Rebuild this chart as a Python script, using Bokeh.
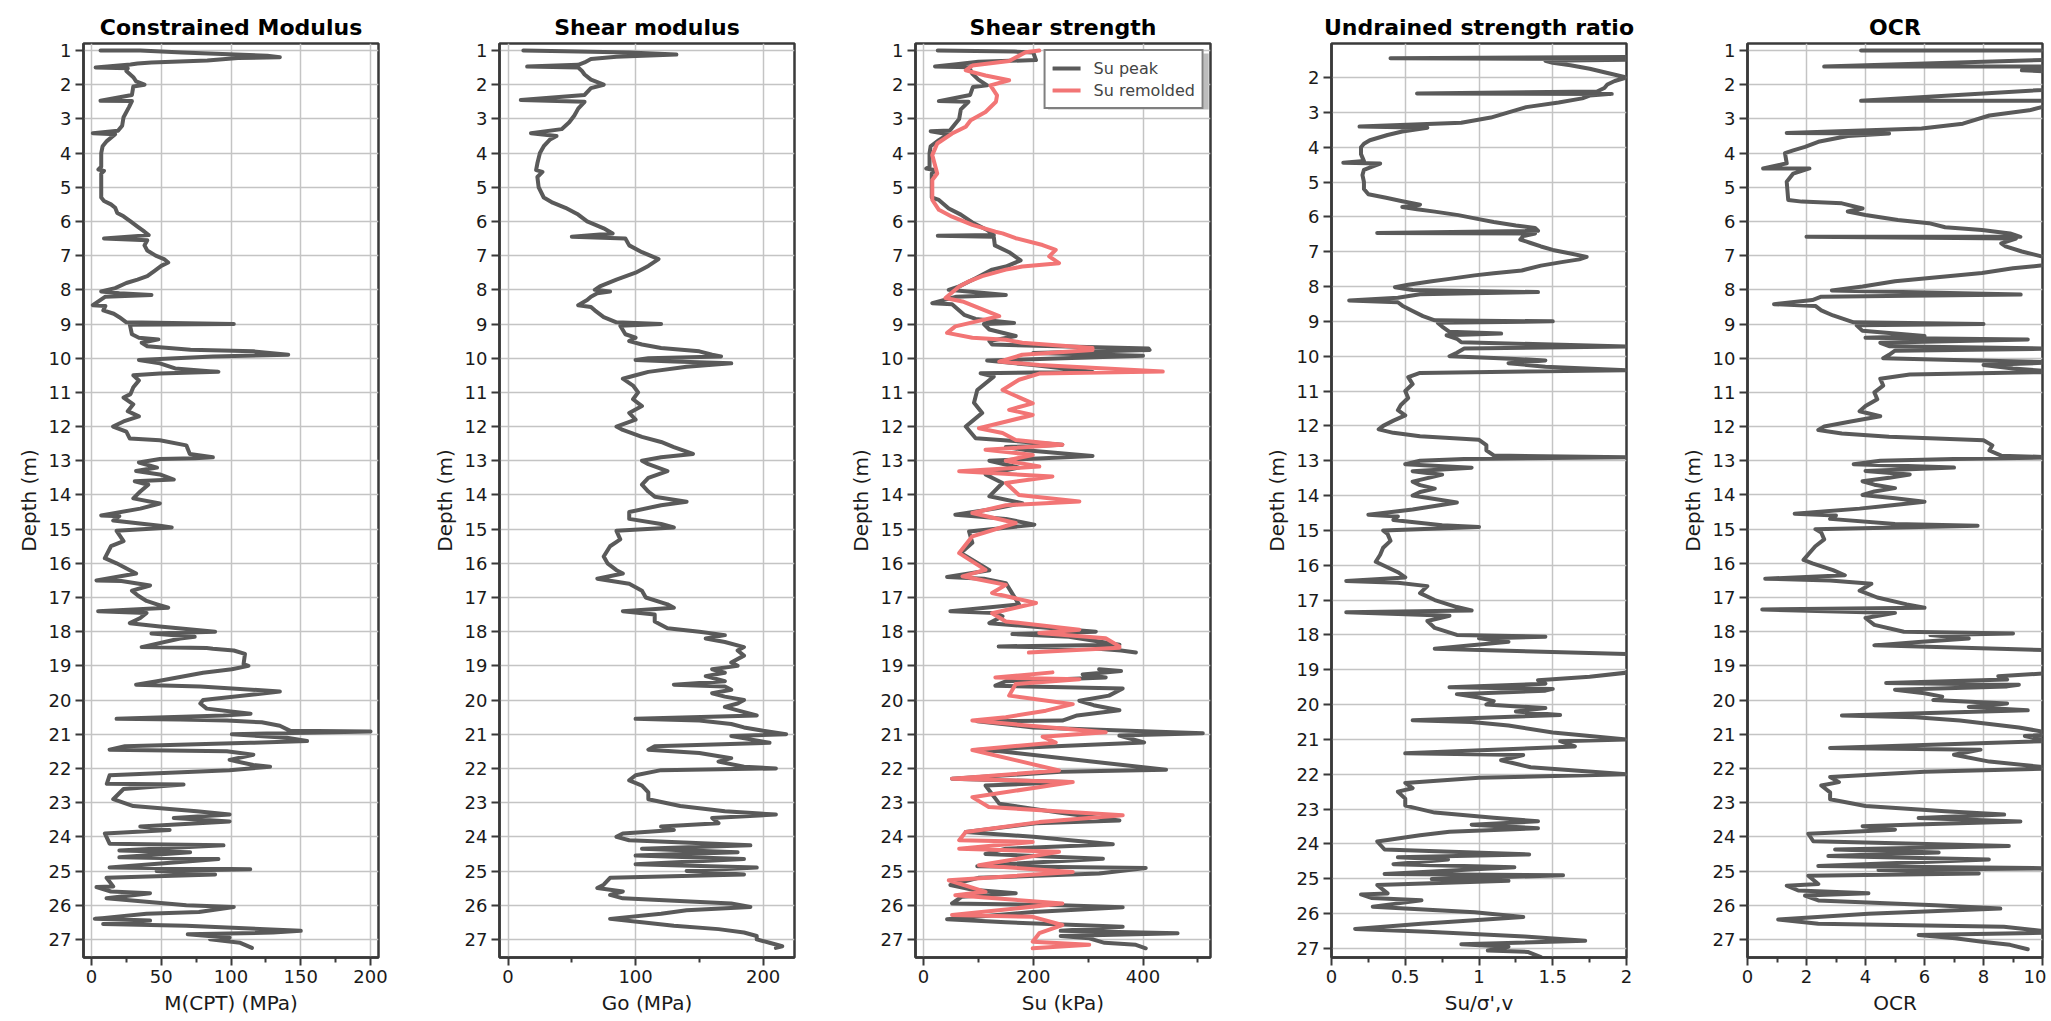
from bokeh.plotting import figure
from bokeh.layouts import row
from bokeh.models import (Range1d, FixedTicker, SingleIntervalTicker, NumeralTickFormatter,
                          Legend, LegendItem, BoxAnnotation)
from bokeh.embed import file_html
from bokeh.resources import INLINE

NAN = float("nan")

# ---------------- data ----------------
m_depth = [1.00,1.00,1.06,1.15,1.20,1.22,1.29,1.35,1.38,1.41,1.50,1.52,1.60,1.78,1.90,2.00,2.05,2.30,2.47,2.48,
           2.65,2.95,3.20,3.35,3.42,3.45,3.65,3.80,4.00,4.40,4.48,4.52,4.60,5.30,5.40,5.50,5.60,5.75,5.85,6.00,
           6.15,6.30,6.40,6.50,6.55,6.70,6.85,7.00,7.10,7.20,7.30,7.45,7.60,7.70,7.80,7.95,8.05,8.10,8.15,8.20,
           8.45,8.47,8.60,8.70,8.80,8.95,9.00,9.02,9.30,9.40,9.45,9.55,9.65,9.75,9.80,9.90,9.95,10.05,10.15,10.30,
           10.40,10.45,10.50,10.65,10.85,11.05,11.15,11.35,11.55,11.70,11.85,12.00,12.15,12.35,12.40,12.55,12.80,12.90,12.93,12.95,
           13.05,13.20,13.30,13.40,13.55,13.60,13.70,13.90,14.10,14.25,14.40,14.60,14.62,14.75,14.90,14.95,15.05,15.35,15.50,15.85,
           16.00,16.20,16.30,16.50,16.52,16.65,16.80,16.95,17.10,17.20,17.30,17.40,17.45,17.60,17.75,17.85,18.00,18.05,18.15,18.20,
           18.45,18.48,18.50,18.55,18.65,18.95,19.00,19.10,19.20,19.45,19.55,19.60,19.75,20.00,20.10,20.25,20.40,20.45,20.55,20.57,
           20.60,20.65,20.75,20.90,20.92,21.00,21.10,21.20,21.25,21.35,21.45,21.50,21.60,21.75,21.90,21.95,22.05,22.20,22.45,22.47,
           22.60,22.90,23.10,23.25,23.35,23.45,23.55,23.70,23.80,23.90,24.20,24.25,24.40,24.45,24.60,24.65,24.90,24.95,25.00,25.10,
           25.20,25.45,25.47,25.60,25.65,25.80,26.00,26.05,26.20,26.25,26.40,26.45,26.55,26.60,26.75,26.80,26.85,26.95,27.00,27.10,27.25]
m_val = [6.5,35,65,126,135,105,83,43,33,28,3,26,25,30,32,38,30,29,6.5,29,
         27,23,22,19,1,17,11,8,7,7,5,9,7,7,9,14,17,18.5,23,28,
         33,38,41,9,40,38,40,46,52,55,50,45,40,33,25,17,7,20,43,10,
         1,10,8.5,16,20,25,102,27.5,29,34,48,36,40,71,116,141,87,34,49,60,
         91,49,30,34,30,28,23,30,26,34,23,15.5,25,27.5,49,68,70.5,87,74,49,
         34,47,32,49,59,31,40.7,35,30,49,35,7,20,15.6,49,57.5,18,23,14,9.6,
         18,27.5,32,3.6,21.5,42,29,33.5,39.5,47,55,4.8,39.5,35,27.5,49,88.6,43,74,63.5,
         36,82.6,87,102,110,109,112.5,100.6,80,47,32,78,135,80,78,82.6,114,94.6,18,63.5,
         97,122,135,142.5,200,100.6,140,154.5,114,24,13,97,116,99,116,128,99,13,11,66,
         23,15.6,30,75.4,99,59,99,35,56,9.6,13,94.6,20,70.7,20,91,13,113.8,46.7,88.6,
         10.8,15.6,3.6,14,42,10.8,68,102,77,39.5,2.4,42,8.4,68,150,130,69,99,85,106.6,115]

go_depth = [1.00,1.02,1.06,1.12,1.18,1.25,1.35,1.42,1.47,1.50,1.60,1.70,1.85,2.00,2.10,2.30,2.45,2.50,2.70,2.90,
            3.10,3.30,3.42,3.50,3.60,3.80,4.00,4.30,4.50,4.55,4.70,5.00,5.30,5.45,5.60,5.80,6.00,6.20,6.35,6.45,
            6.50,6.70,6.90,7.10,7.30,7.50,7.70,7.90,8.00,8.05,8.10,8.20,8.30,8.45,8.50,8.60,8.80,8.95,9.00,9.05,
            9.30,9.40,9.50,9.60,9.70,9.80,9.90,9.95,10.00,10.05,10.10,10.15,10.25,10.40,10.50,10.60,10.80,11.00,11.20,11.40,
            11.60,11.80,12.00,12.10,12.30,12.45,12.60,12.80,12.90,13.00,13.10,13.30,13.50,13.70,13.90,14.05,14.20,14.30,14.50,14.70,
            14.85,14.95,15.05,15.30,15.50,15.80,16.00,16.20,16.30,16.45,16.60,16.80,17.00,17.20,17.30,17.40,17.50,17.70,17.90,18.00,
            18.10,18.20,18.30,18.45,18.55,18.70,18.90,19.00,19.10,19.20,19.30,19.45,19.55,19.60,19.70,19.80,19.90,20.00,20.10,20.20,
            20.30,20.45,20.55,20.60,20.70,20.80,20.90,21.00,21.05,21.15,21.25,21.35,21.45,21.55,21.70,21.80,21.95,22.00,22.05,22.20,
            22.35,22.50,22.70,22.90,23.10,23.25,23.35,23.45,23.60,23.70,23.80,23.90,24.00,24.10,24.25,24.35,24.45,24.55,24.65,24.80,
            24.90,25.00,25.10,25.20,25.40,25.50,25.60,25.70,25.80,25.95,26.05,26.15,26.25,26.40,26.50,26.60,26.70,26.80,26.90,27.00,
            27.10,27.20,27.25]
go_val = [12,45,95,132,85,65,60,55,15,55,58,60,65,75,65,60,10,60,55,52,
          48,42,18,38,33,28,25,23,22,27,23,24,28,35,45,55,62,75,82,50,
          92,95,105,118,110,100,85,72,68,80,70,65,62,55,65,68,75,85,120,88,
          92,100,95,105,120,150,160,167,110,100,130,175,140,110,100,90,98,102,98,105,
          95,100,85,90,105,120,130,145,120,105,110,125,110,105,110,115,140,120,95,95,
          120,130,85,88,80,75,78,85,90,70,95,105,108,125,130,90,115,115,125,150,
          170,155,170,185,180,185,175,180,160,170,155,170,130,170,175,160,170,185,180,170,
          180,195,100,150,175,185,200,218,175,190,205,115,110,150,175,165,185,210,120,100,
          95,105,110,110,135,170,210,160,165,120,130,90,85,95,190,105,180,100,185,100,
          195,140,185,80,75,70,90,80,90,175,190,140,120,80,105,130,165,185,195,195,
          205,215,210]

su_peak_depth = [1.00,1.03,1.06,1.28,1.33,1.40,1.47,1.49,1.68,1.85,2.02,2.07,2.30,2.48,2.50,2.72,3.00,3.20,3.34,3.36,
                 3.45,3.62,3.80,4.00,4.40,4.45,4.50,4.60,5.00,5.30,5.37,5.62,5.80,6.03,6.25,6.40,6.42,6.45,6.70,6.90,
                 7.14,7.32,7.41,7.66,7.90,8.00,8.15,8.20,8.39,8.42,8.73,8.85,8.97,9.00,9.16,9.35,9.50,9.60,9.72,9.76,
                 9.85,9.93,10.07,10.20,10.40,10.44,10.54,10.93,11.30,11.60,12.00,12.34,12.53,12.60,12.70,12.86,13.00,13.20,13.40,13.65,
                 14.04,14.24,14.40,14.58,14.70,14.87,15.07,15.40,15.70,16.20,16.40,16.45,16.58,17.20,17.40,17.45,17.55,17.75,18.00,18.07,
                 18.15,18.38,18.43,18.48,18.55,18.61,18.80,19.10,19.15,19.25,19.34,19.45,19.58,19.66,19.87,20.02,20.15,20.30,20.45,20.60,
                 20.62,20.80,20.97,21.04,21.24,21.35,21.46,21.50,22.04,22.10,22.30,22.40,22.50,23.03,23.30,23.52,23.60,23.86,24.00,24.22,
                 24.35,24.50,24.64,24.80,24.86,24.91,25.07,25.20,25.41,25.55,25.65,25.75,25.95,26.00,26.06,26.20,26.41,26.50,26.63,26.75,
                 26.82,26.90,26.97,27.10,27.16,27.26]
su_peak = [26,165,200,205,100,60,21,83,89,100,116,90,85,28,82,68,65,55,48,13,
           45,28,13,11,11,5,22,15,15,15,28,46,68,89,116,128,26,128,130,156,
           177,150,125,95,65,46,150,60,16,52,74,95,165,110,120,168,120,125,410,412,
           200,400,116,200,308,104,128,98,92,107,77,95,253,150,192,308,120,174,113,144,
           120,180,130,58,150,202,83,89,68,120,43,110,150,174,49,130,144,120,314,162,
           265,357,137,300,360,387,NAN,320,360,290,332,150,131,363,338,284,310,357,280,253,
           98,200,509,357,402,241,95,140,442,250,52,265,113,138,250,357,205,77,200,345,
           150,113,327,150,98,405,320,100,49,90,168,70,52,250,363,200,43,150,363,250,
           463,250,302,330,387,405]

su_rem_depth = [1.00,1.05,1.31,1.44,1.58,1.73,1.87,2.02,2.31,2.50,2.80,3.04,3.23,3.43,3.72,4.06,4.60,4.79,5.37,5.66,
                5.86,6.10,6.30,6.35,6.49,6.69,6.83,7.02,7.22,7.32,7.41,7.60,7.75,7.90,8.24,8.34,8.77,9.07,9.26,9.40,
                9.46,9.55,9.70,9.76,9.90,10.10,10.20,10.39,10.45,10.63,10.93,11.32,11.51,11.66,12.05,12.19,12.39,12.53,12.68,12.83,
                13.00,13.17,13.31,13.46,13.65,14.00,14.19,14.30,14.53,14.82,15.21,15.70,16.19,16.38,16.63,16.87,17.16,17.46,17.70,17.94,
                18.04,18.19,18.43,18.47,18.61,18.90,19.19,19.34,19.39,19.53,19.87,20.12,20.31,20.50,20.60,20.94,21.07,21.24,21.46,22.06,22.30,
                22.40,22.84,23.13,23.37,23.57,23.86,24.10,24.15,24.35,24.44,24.83,25.03,25.27,25.61,25.71,25.95,26.29,26.34,26.58,26.82,
                27.07,27.16,27.26]
su_rem = [211,186,156,89,77,113,156,122,134,132,113,86,77,52,25,16,25,16,16,28,
          52,89,131,144,168,217,241,229,247,180,150,107,83,65,40,71,138,58,43,89,
          150,180,308,308,180,138,211,436,211,174,144,199,156,199,101,144,168,253,113,199,
          150,211,65,235,150,174,284,150,89,168,89,65,113,71,150,125,205,125,150,284,
          211,332,357,357,192,NAN,235,131,284,168,156,272,223,150,89,332,217,241,89,247,52,
          272,89,119,363,211,77,65,199,65,247,101,272,46,113,58,253,52,199,253,211,
          199,302,199]

ratio_depth = [1.40,1.45,1.47,1.52,1.58,1.65,1.75,1.85,1.95,2.00,2.10,2.20,2.30,2.40,2.46,2.47,2.52,2.60,2.72,2.85,
               3.00,3.15,3.30,3.41,3.44,3.55,3.65,3.80,3.90,4.00,4.20,4.40,4.45,4.47,4.55,4.65,4.80,5.00,5.20,5.35,
               5.45,5.55,5.65,5.72,5.78,5.85,5.95,6.05,6.15,6.25,6.32,6.40,6.46,6.48,6.55,6.65,6.75,6.85,6.95,7.05,
               7.15,7.22,7.30,7.40,7.54,7.62,7.68,7.78,7.85,7.95,8.02,8.10,8.16,8.22,8.32,8.40,8.45,8.55,8.70,8.85,
               8.97,9.00,9.04,9.15,9.30,9.35,9.40,9.50,9.60,9.72,9.78,9.90,10.00,10.05,10.12,10.20,10.30,10.40,10.48,10.60,
               10.80,11.00,11.20,11.40,11.55,11.70,11.85,12.00,12.10,12.20,12.30,12.40,12.55,12.70,12.85,12.90,12.95,13.00,13.10,13.20,
               13.30,13.40,13.50,13.60,13.70,13.80,13.90,14.00,14.10,14.20,14.30,14.40,14.55,14.60,14.70,14.85,14.90,15.00,15.10,15.30,
               15.50,15.70,15.90,16.00,16.20,16.35,16.45,16.50,16.60,16.80,17.00,17.20,17.30,17.35,17.45,17.60,17.80,18.00,18.05,18.10,
               18.20,18.30,18.40,18.55,18.65,18.90,19.20,19.30,19.40,19.50,19.55,19.60,19.70,19.80,19.90,20.00,20.10,20.20,20.30,20.45,
               20.50,20.60,20.80,21.00,21.05,21.20,21.30,21.40,21.45,21.60,21.80,22.00,22.10,22.25,22.40,22.50,22.70,22.90,23.10,23.25,
               23.35,23.45,23.55,23.65,23.75,23.93,24.16,24.30,24.38,24.45,24.58,24.67,24.86,24.90,25.01,25.06,25.18,25.42,25.45,25.55,
               25.62,25.80,25.96,26.10,26.29,26.44,26.52,26.66,26.78,26.88,26.95,27.06,27.10,27.25]
ratio = [2.60,0.40,2.40,1.45,1.50,1.62,1.75,1.85,1.95,2.00,1.92,1.87,1.85,1.80,0.58,1.90,1.75,1.70,1.54,1.32,
         1.20,1.08,0.88,0.19,0.65,0.48,0.38,0.26,0.22,0.20,0.20,0.22,0.08,0.33,0.28,0.22,0.21,0.22,0.22,0.25,
         0.37,0.48,0.60,0.48,0.58,0.70,0.86,0.98,1.10,1.25,1.38,1.40,0.31,1.38,1.30,1.28,1.35,1.42,1.50,1.62,
         1.73,1.68,1.56,1.42,1.29,1.10,0.97,0.80,0.68,0.52,0.43,0.55,1.40,0.60,0.45,0.12,0.45,0.48,0.55,0.62,
         0.70,1.50,0.72,0.75,0.80,1.15,0.78,0.85,0.88,2.00,0.90,0.85,0.80,1.10,1.45,1.20,1.45,2.00,0.60,0.52,
         0.55,0.50,0.52,0.47,0.45,0.50,0.42,0.35,0.32,0.42,0.60,1.00,1.05,1.05,1.10,2.00,0.90,0.60,0.50,0.95,
         0.55,0.75,0.65,0.55,0.60,0.70,0.60,0.55,0.70,0.85,0.70,0.55,0.25,0.45,0.42,0.75,1.00,0.35,0.38,0.40,
         0.35,0.33,0.30,0.35,0.45,0.50,0.10,0.45,0.65,0.60,0.70,0.85,0.95,0.10,0.80,0.65,0.70,0.85,1.45,1.00,
         1.20,0.95,0.70,2.00,2.30,2.40,1.75,1.40,1.45,0.80,1.50,1.45,0.85,1.00,1.10,1.05,1.45,1.25,1.55,0.55,
         0.95,1.20,1.50,2.00,1.55,1.65,1.10,0.50,1.30,1.15,1.35,2.00,1.00,0.50,0.55,0.45,0.50,0.50,0.70,1.10,
         1.40,0.95,1.40,0.80,0.60,0.31,0.36,1.34,0.45,0.79,0.42,1.24,0.36,1.57,0.68,1.20,0.31,0.38,0.20,0.27,
         0.61,0.28,0.97,1.30,0.61,0.16,0.65,1.31,1.72,0.88,1.20,1.06,1.33,1.42]

ocr_depth = [1.00,1.00,1.20,1.47,1.47,1.58,1.62,2.00,2.47,2.47,2.56,2.65,2.75,2.90,3.14,3.28,3.41,3.43,3.50,3.67,
             3.82,3.92,4.00,4.30,4.45,4.45,4.60,4.84,5.37,5.42,5.47,5.62,5.71,5.81,5.96,6.05,6.17,6.25,6.35,6.45,
             6.45,6.50,6.64,6.73,6.88,7.03,7.20,7.37,7.51,7.61,7.75,7.90,8.02,8.14,8.20,8.30,8.42,8.47,8.60,8.75,
             8.95,9.00,9.04,9.20,9.35,9.40,9.45,9.55,9.65,9.72,9.78,9.90,10.00,10.05,10.12,10.20,10.30,10.40,10.48,10.60,
             10.80,11.00,11.20,11.40,11.55,11.70,11.85,12.00,12.10,12.20,12.30,12.40,12.55,12.70,12.85,12.90,12.95,13.00,13.10,13.20,
             13.30,13.40,13.50,13.60,13.70,13.80,13.90,14.00,14.10,14.20,14.30,14.40,14.55,14.60,14.70,14.85,14.90,15.00,15.10,15.30,
             15.50,15.70,15.90,16.00,16.20,16.35,16.45,16.50,16.60,16.80,17.00,17.20,17.30,17.35,17.45,17.60,17.80,18.00,18.05,18.10,
             18.20,18.30,18.40,18.55,18.65,18.90,19.20,19.30,19.40,19.50,19.55,19.60,19.70,19.80,19.90,20.00,20.10,20.20,20.30,20.45,
             20.50,20.60,20.80,21.00,21.05,21.20,21.30,21.40,21.45,21.60,21.80,22.00,22.10,22.25,22.40,22.50,22.70,22.90,23.10,23.25,
             23.35,23.45,23.55,23.64,23.69,23.79,23.91,24.13,24.27,24.37,24.46,24.56,24.66,24.85,24.92,24.97,25.07,25.14,25.38,25.43,
             25.57,25.65,25.72,25.86,26.00,26.10,26.25,26.42,26.54,26.63,26.80,26.87,26.97,27.07,27.16,27.29]
ocr = [3.85,12.0,13.0,2.6,12.0,9.3,10.5,13.0,3.85,12.0,11.0,10.0,9.55,8.2,7.3,5.9,1.33,4.8,3.4,2.4,
       1.95,1.55,1.27,1.33,0.53,2.1,1.55,1.33,1.38,1.84,3.2,3.9,3.4,4.0,5.1,6.15,6.7,7.95,8.9,9.25,
       2.0,9.1,8.6,8.75,9.3,10.0,11.0,9.0,7.95,6.7,5.0,3.9,2.86,9.26,2.5,2.2,0.9,2.3,2.5,2.9,
       3.6,8.0,3.7,3.9,6.0,4.0,9.5,4.5,4.8,10.5,5.0,4.8,4.6,7.0,10.5,8.0,9.0,10.5,5.5,4.5,
       4.6,4.3,4.4,4.0,3.8,4.5,3.5,2.6,2.4,3.2,4.8,8.0,8.3,8.2,8.6,10.5,7.0,4.5,3.6,7.0,
       4.0,5.5,4.8,3.9,4.3,5.0,4.3,3.9,5.0,6.0,4.9,3.8,1.6,3.0,2.8,5.0,7.8,2.3,2.5,2.6,
       2.3,2.1,1.9,2.2,2.9,3.3,0.6,2.8,4.2,3.8,4.4,5.4,6.0,0.5,5.0,4.0,4.3,5.3,9.0,6.2,
       7.5,5.8,4.3,10.5,11.5,12.0,10.5,8.5,8.8,4.7,9.2,8.8,5.0,6.0,6.6,6.3,8.8,7.5,9.5,3.2,
       5.7,7.2,9.2,10.5,9.4,10.2,6.5,2.8,7.9,7.0,8.2,10.5,6.0,2.8,3.1,2.5,2.8,2.8,4.0,6.7,
       8.7,5.8,9.25,5.7,3.9,5.0,2.06,2.23,8.86,2.97,6.48,2.74,8.18,2.4,10.5,4.44,7.84,2.06,2.4,1.33,
       1.72,4.1,1.95,2.4,6.36,8.57,4.1,1.04,2.4,8.69,10.5,5.8,7.04,7.95,8.9,9.5]

# axis settings
m_ticks = [0, 50, 100, 150, 200]
m_minor = [25, 75, 125, 175]
go_ticks = [0, 100, 200]
go_minor = [50, 150]
su_ticks = [0, 200, 400]
su_minor = [100, 300, 500]
ratio_ticks = [0, 0.5, 1, 1.5, 2]
ratio_minor = [0.25, 0.75, 1.25, 1.75]
ocr_ticks = [0, 2, 4, 6, 8, 10]
ocr_minor = [1, 3, 5, 7, 9]

FONT = "DejaVu Sans"
DARK = "#5a5a5a"
RED = "#f27575"
EDGE = "#3a3a3a"


def make_fig(title, xlabel, xr, yr, ticks, minor, left_border=75, right_border=46):
    p = figure(frame_width=295, frame_height=914, min_border_left=left_border, min_border_right=right_border,
               min_border_top=43, min_border_bottom=5,
               x_range=Range1d(*xr), y_range=Range1d(*yr),
               output_backend="svg", toolbar_location=None, title=title)
    p.title.text_font = FONT
    p.title.text_font_size = "22px"
    p.title.text_font_style = "bold"
    p.title.align = "center"
    p.title.text_color = "black"
    p.title.standoff = 8
    p.outline_line_color = EDGE
    p.outline_line_width = 2.5
    p.outline_line_alpha = 1
    p.xaxis.ticker = FixedTicker(ticks=ticks, minor_ticks=minor)
    p.yaxis.ticker = SingleIntervalTicker(interval=1, num_minor_ticks=0)
    p.xaxis.axis_label = xlabel
    p.yaxis.axis_label = "Depth (m)"
    for ax in (p.xaxis[0], p.yaxis[0]):
        ax.axis_line_color = EDGE
        ax.axis_line_width = 2.5
        ax.major_tick_line_color = EDGE
        ax.major_tick_line_width = 2
        ax.major_tick_out = 8
        ax.major_tick_in = 0
        ax.minor_tick_line_color = EDGE
        ax.minor_tick_line_width = 2
        ax.minor_tick_out = 5
        ax.minor_tick_in = 0
        ax.major_label_text_font = FONT
        ax.major_label_text_font_size = "18px"
        ax.major_label_text_color = "#1a1a1a"
        ax.major_label_standoff = 4
        ax.axis_label_text_font = FONT
        ax.axis_label_text_font_size = "20px"
        ax.axis_label_text_font_style = "normal"
        ax.axis_label_text_color = "#1a1a1a"
        ax.axis_label_standoff = 5
    p.yaxis.minor_tick_line_color = None
    p.grid.grid_line_color = "#c4c4c4"
    p.grid.grid_line_width = 1.5
    p.background_fill_color = "white"
    p.border_fill_color = "white"
    return p


def trace(p, x, y, color):
    return p.line(x=x, y=y, line_color=color, line_width=4, line_join="round", line_cap="round")


YR = (27.53, 0.795)

p1 = make_fig("Constrained Modulus", "M(CPT) (MPa)", (-5.7, 205.7), YR, m_ticks, m_minor, left_border=83)
trace(p1, m_val, m_depth, DARK)

p2 = make_fig("Shear modulus", "Go (MPa)", (-6.7, 224.6), YR, go_ticks, go_minor)
trace(p2, go_val, go_depth, DARK)

p3 = make_fig("Shear strength", "Su (kPa)", (-14.6, 523), YR, su_ticks, su_minor)
shadow = BoxAnnotation(left=226.9, right=519.7, top=1.087, bottom=2.725, fill_color="#bdbdbd",
                       fill_alpha=1, line_color=None)
p3.add_layout(shadow)
r_peak = trace(p3, su_peak, su_peak_depth, DARK)
r_rem = trace(p3, su_rem, su_rem_depth, RED)
leg = Legend(items=[LegendItem(label="Su peak", renderers=[r_peak]),
                    LegendItem(label="Su remolded", renderers=[r_rem])],
             location="top_right", margin=6, padding=7, spacing=2,
             glyph_width=28, glyph_height=20, label_standoff=13,
             label_text_font=FONT, label_text_font_size="16px",
             border_line_color="black", border_line_width=2,
             background_fill_color="white", background_fill_alpha=1)
p3.add_layout(leg)

p4 = make_fig("Undrained strength ratio", "Su/σ',v", (0, 2), (27.26, 1.024), ratio_ticks, ratio_minor)
p4.xaxis.formatter = NumeralTickFormatter(format="0.[0]")
trace(p4, ratio, ratio_depth, DARK)

p5 = make_fig("OCR", "OCR", (0, 10), YR, ocr_ticks, ocr_minor, right_border=4)
trace(p5, ocr, ocr_depth, DARK)

layout = row(p1, p2, p3, p4, p5, spacing=0)
open("out.html", "w").write(file_html(layout, INLINE))
